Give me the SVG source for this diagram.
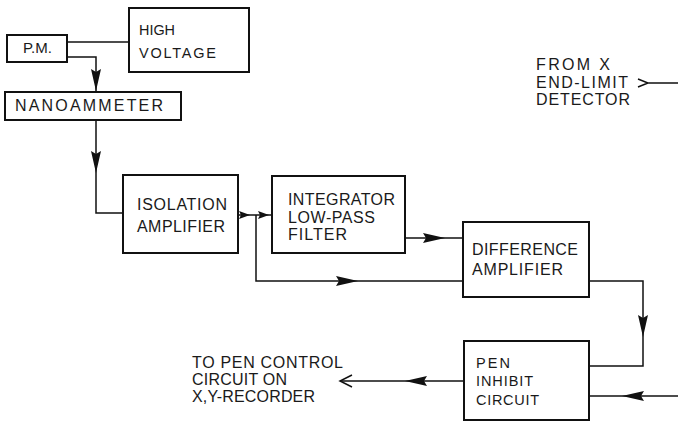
<svg xmlns="http://www.w3.org/2000/svg" xmlns:xlink="http://www.w3.org/1999/xlink" width="678" height="423" viewBox="0 0 678 423">
<style>
.box{fill:#fff;stroke:#111;stroke-width:2}
.ln{fill:none;stroke:#111;stroke-width:1.5}
.t{font-family:"Liberation Sans",Arial,sans-serif;font-size:16px;fill:#1a1a1a}
.s{font-size:14.5px}
</style>
<defs>
<path id="ah" d="M0,0 L-22,-5 L-19,0 L-22,5 Z" fill="#111"/>
<path id="ahs" d="M0,0 L-11,-4 L-9,0 L-11,4 Z" fill="#111"/>
</defs>
<rect width="678" height="423" fill="#fff"/>
<g id="connectors">
<path class="ln" d="M67,42 H129"/>
<path class="ln" d="M67,57 H96 V92"/>
<path class="ln" d="M96,120 V213 H123"/>
<path class="ln" d="M238,215 H272"/>
<path class="ln" d="M256,215 V281 H463"/>
<path class="ln" d="M405,238 H463"/>
<path class="ln" d="M589,281 H643 V366 H589"/>
<path class="ln" d="M678,396 H589"/>
<path class="ln" d="M464,381 H341"/>
<path class="ln" d="M352,375 L340,381 L352,387"/>
<path class="ln" d="M638,79 L648,83 L638,87 M648,83 H678"/>
<use xlink:href="#ah" transform="translate(96,91) rotate(90)"/>
<use xlink:href="#ah" transform="translate(96,173) rotate(90)"/>
<use xlink:href="#ahs" transform="translate(250,215)"/>
<use xlink:href="#ahs" transform="translate(269,215)"/>
<use xlink:href="#ah" transform="translate(358,281)"/>
<use xlink:href="#ah" transform="translate(445,238)"/>
<use xlink:href="#ah" transform="translate(643,337) rotate(90)"/>
<use xlink:href="#ah" transform="translate(622,396) rotate(180)"/>
<use xlink:href="#ah" transform="translate(405,381) rotate(180)"/>
</g>
<g id="pm">
<rect class="box" x="7" y="35" width="60" height="27"/>
<text class="t s" x="23" y="53" textLength="29" lengthAdjust="spacingAndGlyphs">P.M.</text>
</g>
<g id="high-voltage">
<rect class="box" x="129" y="8" width="120" height="64"/>
<text class="t s" x="139" y="35" textLength="36" lengthAdjust="spacingAndGlyphs">HIGH</text>
<text class="t s" x="139" y="58" textLength="77" lengthAdjust="spacing">VOLTAGE</text>
</g>
<g id="nanoammeter">
<rect class="box" x="5" y="92" width="176" height="28"/>
<text class="t" x="15" y="111" textLength="148" lengthAdjust="spacing">NANOAMMETER</text>
</g>
<g id="isolation-amplifier">
<rect class="box" x="123" y="175" width="115" height="78"/>
<text class="t" x="137" y="210" textLength="90" lengthAdjust="spacing">ISOLATION</text>
<text class="t" x="137" y="232" textLength="88" lengthAdjust="spacing">AMPLIFIER</text>
</g>
<g id="integrator">
<rect class="box" x="272" y="176" width="133" height="77"/>
<text class="t" x="288" y="205" textLength="107" lengthAdjust="spacing">INTEGRATOR</text>
<text class="t" x="288" y="223" textLength="87" lengthAdjust="spacing">LOW-PASS</text>
<text class="t" x="288" y="240" textLength="59" lengthAdjust="spacing">FILTER</text>
</g>
<g id="difference-amplifier">
<rect class="box" x="463" y="222" width="126" height="75"/>
<text class="t" x="472" y="255" textLength="106" lengthAdjust="spacing">DIFFERENCE</text>
<text class="t" x="472" y="275" textLength="91" lengthAdjust="spacing">AMPLIFIER</text>
</g>
<g id="pen-inhibit">
<rect class="box" x="464" y="341" width="125" height="79"/>
<text class="t s" x="476" y="368" textLength="34" lengthAdjust="spacing">PEN</text>
<text class="t s" x="476" y="386" textLength="57" lengthAdjust="spacing">INHIBIT</text>
<text class="t s" x="476" y="405" textLength="63" lengthAdjust="spacing">CIRCUIT</text>
</g>
<g id="to-pen-control">
<text class="t" x="192" y="368" textLength="151" lengthAdjust="spacing">TO PEN CONTROL</text>
<text class="t" x="192" y="385" textLength="95" lengthAdjust="spacing">CIRCUIT ON</text>
<text class="t" x="192" y="402" textLength="123" lengthAdjust="spacing">X,Y-RECORDER</text>
</g>
<g id="from-x">
<text class="t" x="536" y="70" textLength="74" lengthAdjust="spacing">FROM X</text>
<text class="t" x="536" y="88" textLength="92" lengthAdjust="spacing">END-LIMIT</text>
<text class="t" x="536" y="105" textLength="94" lengthAdjust="spacing">DETECTOR</text>
</g>
</svg>
